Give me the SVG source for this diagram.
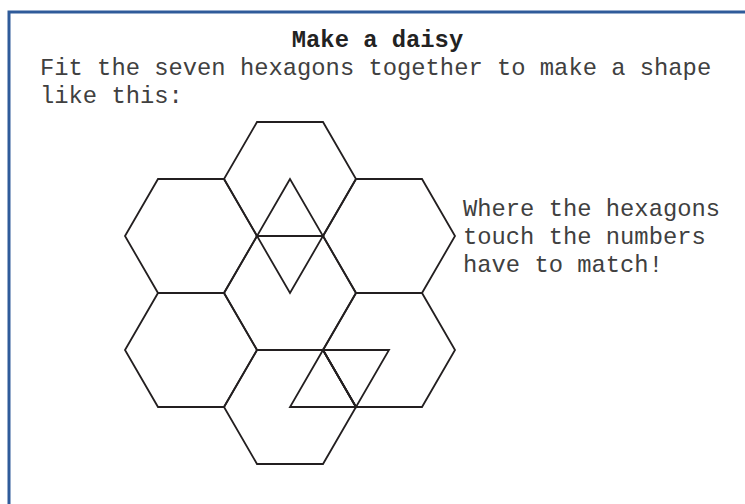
<svg xmlns="http://www.w3.org/2000/svg" width="745" height="504" viewBox="0 0 745 504">
<style>
.frame{fill:none;stroke:#2f5b9a;stroke-width:3}
.hex{fill:none;stroke:#231f20;stroke-width:1.8;stroke-linejoin:miter}
.mark{fill:none;stroke:#231f20;stroke-width:1.8}
.t{font-family:"Liberation Mono","Courier New",monospace;font-size:23.8px;fill:#404040}
.title{font-weight:bold;fill:#222}
</style>
<rect width="745" height="504" fill="#fff"/>
<rect class="frame" x="9" y="12" width="800" height="600"/>
<text class="t title" x="377.5" y="47" text-anchor="middle">Make a daisy</text>
<text class="t" x="40" y="75">Fit the seven hexagons together to make a shape</text>
<text class="t" x="40" y="103">like this:</text>
<g id="hex-center"><polygon class="hex" points="257,236 323,236 356,293 323,350 257,350 224,293"/></g>
<g id="hex-top"><polygon class="hex" points="257,122 323,122 356,179 323,236 257,236 224,179"/></g>
<g id="hex-upper-left"><polygon class="hex" points="158,179 224,179 257,236 224,293 158,293 125,236"/></g>
<g id="hex-upper-right"><polygon class="hex" points="356,179 422,179 455,236 422,293 356,293 323,236"/></g>
<g id="hex-lower-left"><polygon class="hex" points="158,293 224,293 257,350 224,407 158,407 125,350"/></g>
<g id="hex-lower-right"><polygon class="hex" points="356,293 422,293 455,350 422,407 356,407 323,350"/></g>
<g id="hex-bottom"><polygon class="hex" points="257,350 323,350 356,407 323,464 257,464 224,407"/></g>
<g id="marks">
<polygon class="mark" points="290,179 257,236 323,236"/>
<polygon class="mark" points="257,236 323,236 290,293"/>
<polygon class="mark" points="323,350 290,407 356,407"/>
<polygon class="mark" points="323,350 389,350 356,407"/>
</g>
<text class="t" x="463" y="216">Where the hexagons</text>
<text class="t" x="463" y="244">touch the numbers</text>
<text class="t" x="463" y="272">have to match!</text>
</svg>
